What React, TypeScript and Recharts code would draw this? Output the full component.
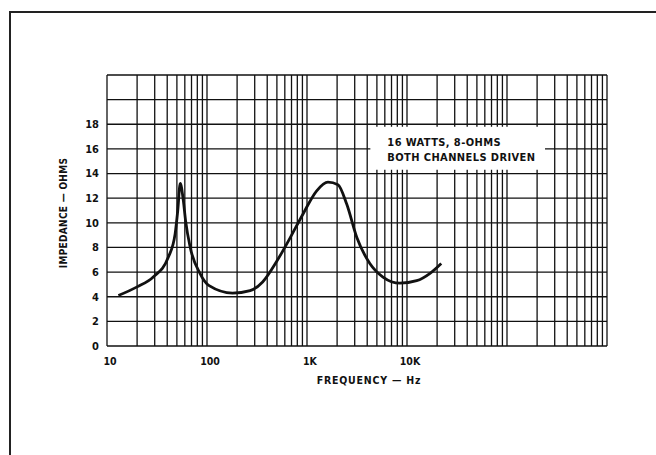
import { LineChart, Line, XAxis, YAxis, CartesianGrid, ReferenceArea } from 'recharts'

// frequency (Hz) and impedance (ohms)
const freqs = [13, 20, 29, 41, 48, 51, 54, 58, 61, 68, 85, 105, 180, 270, 360, 500, 680, 910, 1250, 1620, 2040, 2500, 3150, 4250, 5750, 8500, 12500, 17000, 22000]
const ohms = [4.1, 4.8, 5.6, 7.2, 9.1, 11, 13.2, 11.8, 10.2, 8.0, 5.9, 4.9, 4.3, 4.5, 5.2, 6.9, 8.8, 10.7, 12.6, 13.3, 13.1, 11.5, 8.8, 6.7, 5.6, 5.1, 5.3, 5.9, 6.7]

// log graph paper lines: 1..9 in every decade from 10 Hz to 1 MHz
const decades = [10, 100, 1000, 10000, 100000]
const steps = [1, 2, 3, 4, 5, 6, 7, 8, 9]
const xGrid = [...decades.flatMap((d) => steps.map((s) => d * s)), 1000000]
const xLabels: Record<number, string> = { 10: '10', 100: '100', 1000: '1K', 10000: '10K' }

const yGrid = [0, 2, 4, 6, 8, 10, 12, 14, 16, 18, 20, 22]
const yLabelMax = 18

const noteLines = ['16 WATTS, 8-OHMS', 'BOTH CHANNELS DRIVEN']

const data = freqs.map((f, i) => ({ f, z: ohms[i] }))

const font = '"DejaVu Sans Condensed", "DejaVu Sans", sans-serif'

const XTick = (props: any) => {
  const { x, y, payload } = props
  const txt = xLabels[payload.value]
  if (!txt) return null
  return (
    <text x={x + 3} y={y + 11} textAnchor="middle" fontFamily={font} fontWeight="bold" fontSize={10.5} fill="#111">
      {txt}
    </text>
  )
}

export default function App() {
  return (
    <div style={{ position: 'fixed', left: 0, top: 0, width: 656, height: 455, background: '#fff', overflow: 'hidden' }}>
      <div
        style={{
          position: 'absolute',
          left: 9,
          top: 11,
          width: 700,
          height: 500,
          borderTop: '2px solid #222',
          borderLeft: '2px solid #222',
        }}
      />
      <LineChart
        width={656}
        height={455}
        data={data}
        margin={{ top: 75, right: 49, bottom: 79, left: 57 }}
        style={{ position: 'absolute', left: 0, top: 0 }}
      >
        <CartesianGrid stroke="#111" strokeWidth={1.3} />
        <XAxis
          dataKey="f"
          type="number"
          scale="log"
          domain={[10, 1000000]}
          ticks={xGrid}
          interval={0}
          height={30}
          axisLine={false}
          tickLine={false}
          tick={<XTick />}
          allowDataOverflow
          label={{
            value: 'FREQUENCY — Hz',
            content: (p: any) => {
              const vb = p.viewBox
              return (
                <text
                  x={vb.x + 262}
                  y={vb.y + 38}
                  textAnchor="middle"
                  fontFamily={font}
                  fontWeight="bold"
                  fontSize={10.5}
                  letterSpacing={0.8}
                  fill="#111"
                >
                  FREQUENCY — Hz
                </text>
              )
            },
          }}
        />
        <YAxis
          type="number"
          domain={[0, 22]}
          ticks={yGrid}
          interval={0}
          width={50}
          axisLine={false}
          tickLine={false}
          tickFormatter={(v: number) => (v <= yLabelMax ? String(v) : '')}
          tick={{ fontFamily: font, fontWeight: 'bold', fontSize: 11, fill: '#111' }}
          label={{
            value: 'IMPEDANCE — OHMS',
            content: (p: any) => {
              const vb = p.viewBox
              const cx = vb.x + 6
              const cy = 213
              return (
                <text
                  x={cx}
                  y={cy}
                  transform={`rotate(-90 ${cx} ${cy})`}
                  textAnchor="middle"
                  dominantBaseline="central"
                  fontFamily={font}
                  fontWeight="bold"
                  fontSize={10}
                  letterSpacing={0.3}
                  fill="#111"
                >
                  IMPEDANCE — OHMS
                </text>
              )
            },
          }}
        />
        <ReferenceArea
          x1={4300}
          x2={240000}
          y1={14.3}
          y2={17.8}
          fill="#fff"
          fillOpacity={1}
          stroke="none"
          label={{
            content: (p: any) => {
              const vb = p.viewBox
              return (
                <text fontFamily={font} fontWeight="bold" fontSize={11} letterSpacing={0.4} fill="#111">
                  {noteLines.map((t, i) => (
                    <tspan key={t} x={vb.x + 17} y={vb.y + 19 + i * 15}>
                      {t}
                    </tspan>
                  ))}
                </text>
              )
            },
          }}
        />
        <Line
          dataKey="z"
          type="monotoneX"
          stroke="#111"
          strokeWidth={2.8}
          dot={false}
          isAnimationActive={false}
        />
      </LineChart>
    </div>
  )
}
